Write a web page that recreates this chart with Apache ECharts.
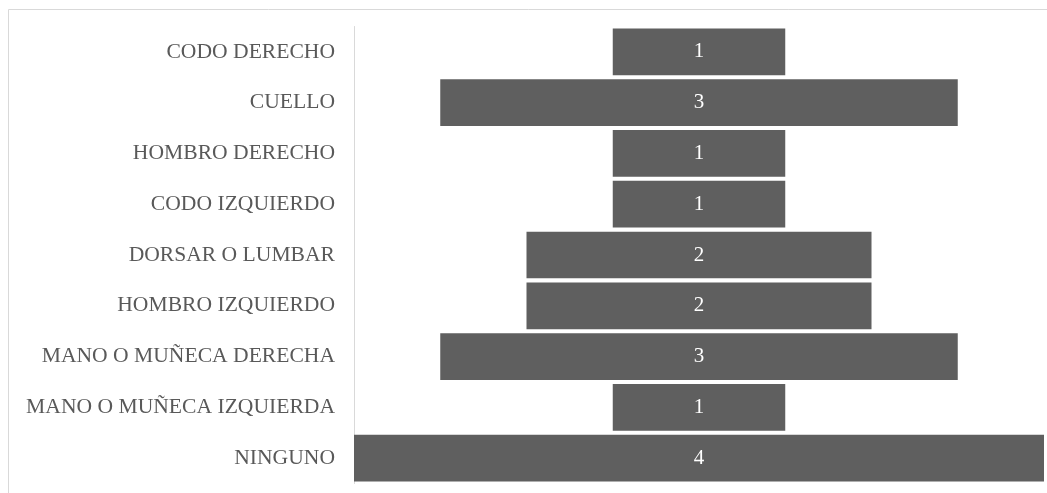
<!DOCTYPE html>
<html><head><meta charset="utf-8">
<script src="https://cdn.jsdelivr.net/npm/echarts@6/dist/echarts.min.js"></script>
<style>html,body{margin:0;padding:0;background:#fff}#c{width:1047px;height:493px}</style>
</head><body><div id="c"></div>
<script>
const categories = ["CODO DERECHO","CUELLO","HOMBRO DERECHO","CODO IZQUIERDO","DORSAR O LUMBAR","HOMBRO IZQUIERDO","MANO O MUÑECA DERECHA","MANO O MUÑECA IZQUIERDA","NINGUNO"];
const values = [1,3,1,1,2,2,3,1,4];
const maxValue = 4;
const offsets = values.map(v => (maxValue - v) / 2);
const FONT = "'Liberation Serif', 'DejaVu Serif', serif";
const chart = echarts.init(document.getElementById('c'));
chart.setOption({
  animation: false,
  graphic: [{type:'rect', shape:{x:8.5,y:9.5,width:1200,height:700}, style:{fill:'none', stroke:'#d9d9d9', lineWidth:1}, silent:true, z:-10}],
  grid: {left: 354, right: 3, top: 26.5, bottom: 9.5},
  xAxis: {type:'value', min:0, max:maxValue, show:false},
  yAxis: {type:'category', data:categories, inverse:true,
    axisTick:{show:false}, axisLine:{lineStyle:{color:'#d9d9d9', width:1}},
    axisLabel:{color:'#595959', fontFamily:FONT, fontSize:21.6, margin:19, padding:[4,0,0,0]}},
  series: [
    {type:'bar', stack:'s', data:offsets, itemStyle:{color:'transparent'}, barCategoryGap:'8%', silent:true},
    {type:'bar', stack:'s', data:values, itemStyle:{color:'#5f5f5f'}, barCategoryGap:'8%',
      label:{show:true, position:'inside', color:'#fff', fontFamily:FONT, fontSize:21, padding:[3,0,0,0]}}
  ]
});
</script></body></html>
